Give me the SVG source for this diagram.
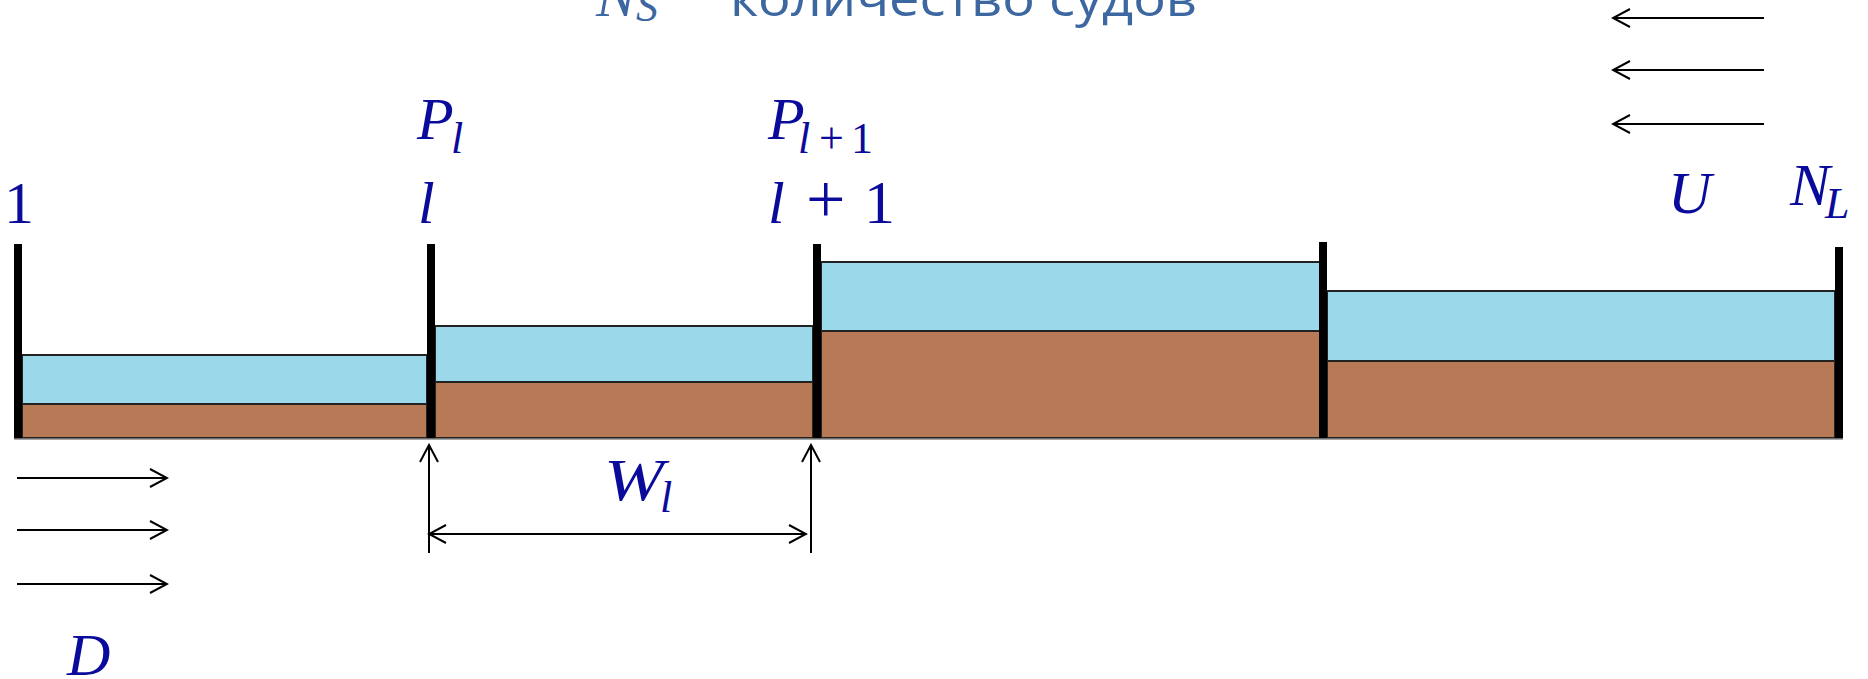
<svg xmlns="http://www.w3.org/2000/svg" width="1868" height="679" viewBox="0 0 1868 679">
<style>
.water{fill:#9BD9EA;stroke:#222;stroke-width:2}
.ground{fill:#B87A56;stroke:#222;stroke-width:2}
.wall{fill:#000}
.m{font-family:"Liberation Serif",serif;font-style:italic;font-size:60px;fill:#0B0B9B}
.sub{font-size:44px}
.up{font-style:normal}
.top{fill:#3C67A0}
.ln{stroke:#000;stroke-width:2;fill:none}
</style>
<defs>
<marker id="ah" viewBox="-20 -12 22 24" markerWidth="22" markerHeight="24" refX="0" refY="0" markerUnits="userSpaceOnUse" orient="auto-start-reverse">
<path d="M-17,-9 L0,0 L-17,9" fill="none" stroke="#000" stroke-width="2"/>
</marker>
</defs>
<rect width="1868" height="679" fill="#fff"/>
<g id="title">
<text class="m top" x="596" y="16">N<tspan class="sub" x="636" y="21">S</tspan></text>
<text x="730" y="16" font-family="Open Sans, sans-serif" font-size="50" fill="#3C67A0" textLength="467" lengthAdjust="spacingAndGlyphs">количество судов</text>
</g>
<g id="chamber1">
<rect class="water" x="22" y="355" width="405" height="49"/>
<rect class="ground" x="22" y="404" width="405" height="34"/>
</g>
<g id="chamber2">
<rect class="water" x="435" y="326" width="378" height="56"/>
<rect class="ground" x="435" y="382" width="378" height="56"/>
</g>
<g id="chamber3">
<rect class="water" x="821" y="262" width="499" height="69"/>
<rect class="ground" x="821" y="331" width="499" height="107"/>
</g>
<g id="chamber4">
<rect class="water" x="1327" y="291" width="508" height="70"/>
<rect class="ground" x="1327" y="361" width="508" height="77"/>
</g>
<g id="walls">
<rect class="wall" x="14" y="244" width="8" height="195"/>
<rect class="wall" x="427" y="244" width="8" height="195"/>
<rect class="wall" x="813" y="244" width="8" height="195"/>
<rect class="wall" x="1319" y="242" width="8" height="197"/>
<rect class="wall" x="1835" y="247" width="8" height="192"/>
<line x1="14" y1="439" x2="1843" y2="439" stroke="#888" stroke-width="1.5"/>
</g>
<g id="labels">
<text class="m up" x="4" y="223" font-size="62">1</text>
<text class="m" x="418" y="223">l</text>
<text class="m" x="417" y="139">P<tspan class="sub" x="451" y="153">l</tspan></text>
<text class="m" x="768" y="139">P<tspan class="sub" x="798" y="153">l</tspan><tspan class="sub up" x="819" y="153" font-size="46">+</tspan><tspan class="sub up" x="851" y="153">1</tspan></text>
<text class="m" x="768" y="223">l<tspan class="up" x="806" font-size="70">+</tspan><tspan class="up" x="864" font-size="62">1</tspan></text>
<text class="m" x="1668" y="213" font-size="62">U</text>
<text class="m" x="1790" y="205" font-size="62">N<tspan class="sub" x="1825" y="218" font-size="46">L</tspan></text>
<text class="m" x="604" y="500" font-size="64" textLength="60" lengthAdjust="spacingAndGlyphs">W</text>
<text class="m sub" x="660" y="512">l</text>
<text class="m" x="67" y="675" font-size="64">D</text>
</g>
<g id="connectors">
<line class="ln" x1="17" y1="478" x2="167" y2="478" marker-end="url(#ah)"/>
<line class="ln" x1="17" y1="530" x2="167" y2="530" marker-end="url(#ah)"/>
<line class="ln" x1="17" y1="584" x2="167" y2="584" marker-end="url(#ah)"/>
<line class="ln" x1="1764" y1="18" x2="1613" y2="18" marker-end="url(#ah)"/>
<line class="ln" x1="1764" y1="70" x2="1613" y2="70" marker-end="url(#ah)"/>
<line class="ln" x1="1764" y1="124" x2="1613" y2="124" marker-end="url(#ah)"/>
<line class="ln" x1="429" y1="553" x2="429" y2="445" marker-end="url(#ah)"/>
<line class="ln" x1="811" y1="553" x2="811" y2="445" marker-end="url(#ah)"/>
<line class="ln" x1="429" y1="534" x2="806" y2="534" marker-start="url(#ah)" marker-end="url(#ah)"/>
</g>
</svg>
